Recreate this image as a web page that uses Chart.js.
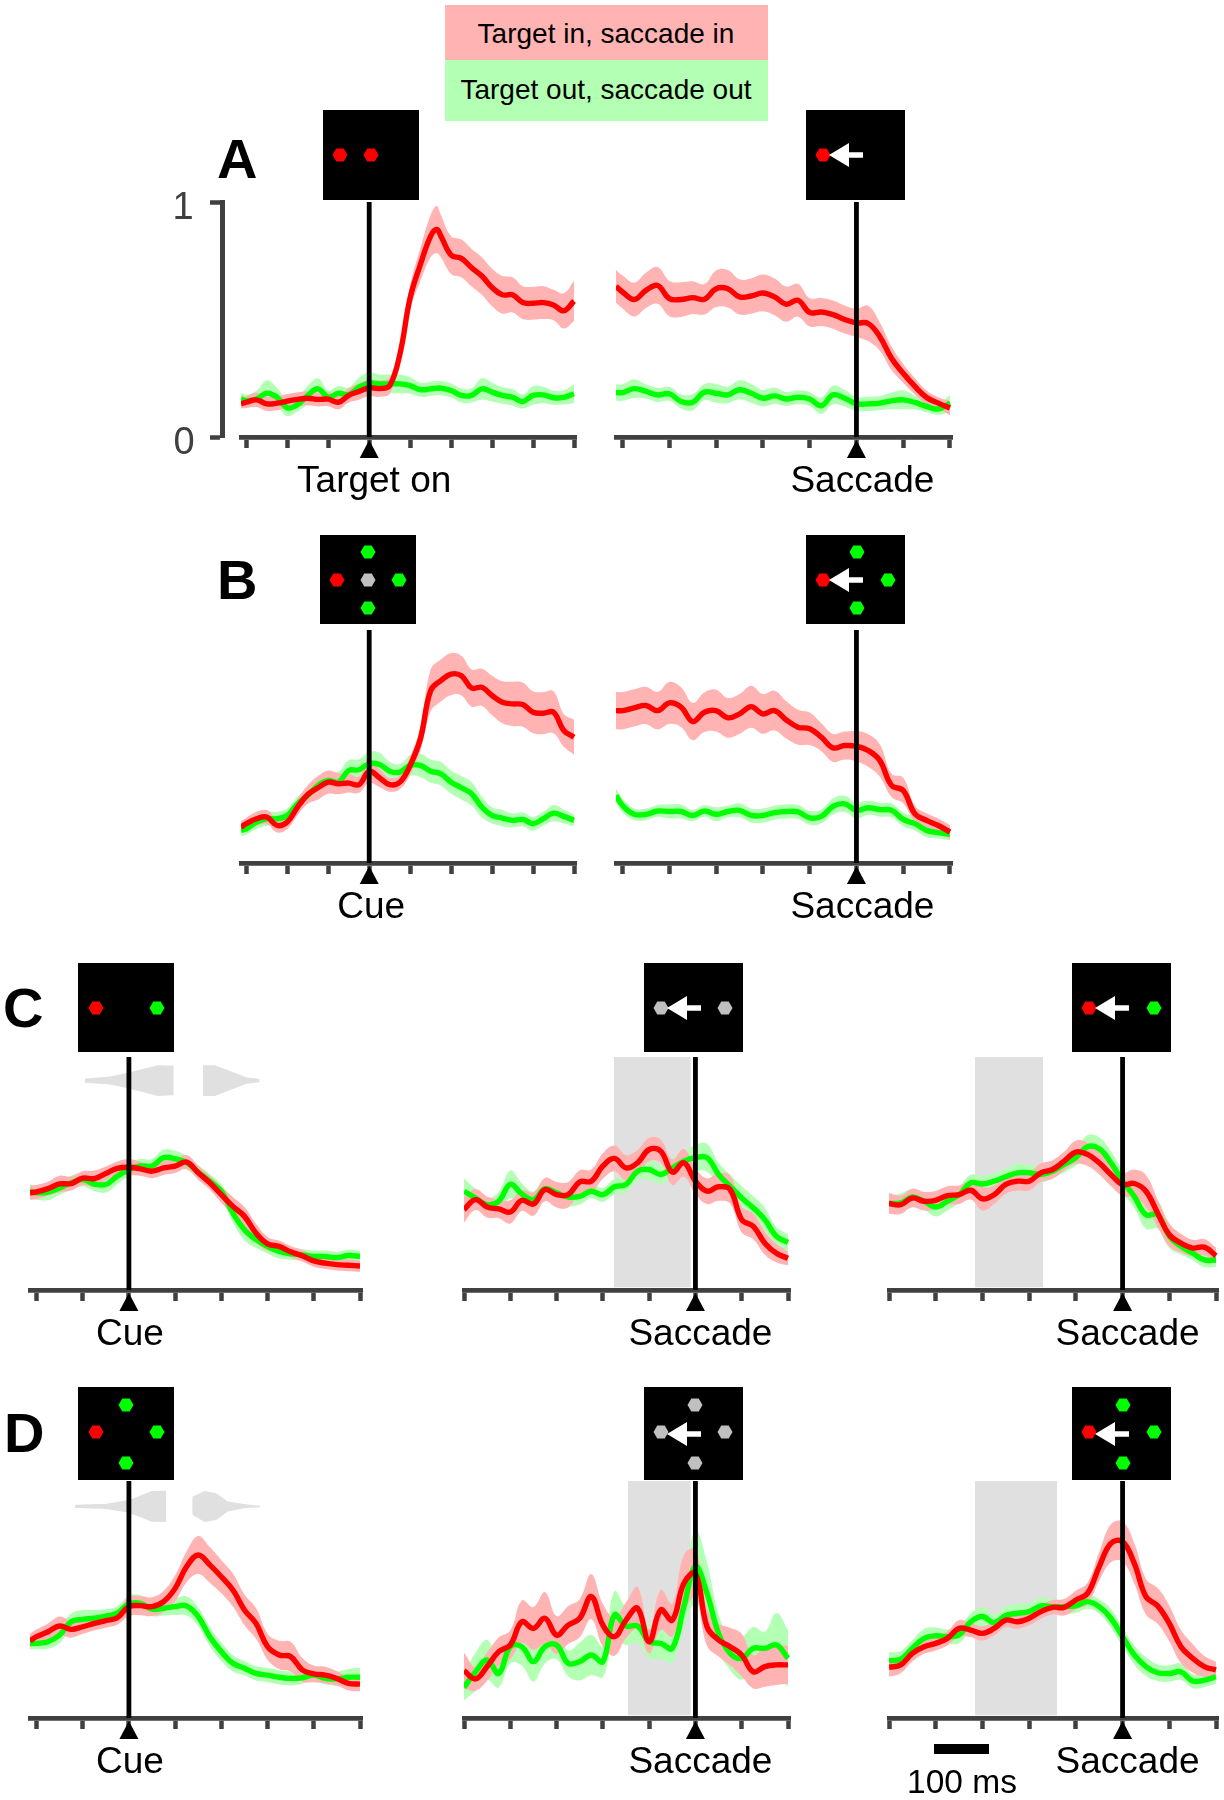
<!DOCTYPE html>
<html>
<head>
<meta charset="utf-8">
<style>
  body { margin: 0; background: #fff; }
  #fig { position: relative; width: 1224px; height: 1800px; overflow: hidden; font-family: "Liberation Sans", sans-serif; color: #000; }
  #fig canvas, #fig svg, #fig .txt, #fig .box { position: absolute; }
  #fig .txt { white-space: nowrap; }
</style>
<script src="https://cdn.jsdelivr.net/npm/chart.js@4"></script>
</head>
<body>
<div id="fig"></div>
<script>
// time samples, ms from the event
const aLeftTimes = [-313,-300,-275,-250,-225,-200,-175,-150,-125,-100,-75,-50,-25,0,25,50,75,100,125,150,165,175,200,225,250,275,300,325,350,375,400,425,450,475,500];
const bLeftTimes = [-313,-300,-275,-250,-225,-200,-175,-150,-125,-100,-75,-50,-25,0,25,50,75,100,125,150,175,200,225,250,275,300,325,350,375,400,425,450,475,500];
const topRightTimes = [-514,-500,-475,-450,-425,-400,-375,-350,-325,-300,-275,-250,-225,-200,-175,-150,-125,-100,-75,-50,-25,0,25,50,75,100,125,150,175,200];
const cueTimes = [-214,-200,-175,-150,-125,-100,-75,-50,-25,0,25,50,75,100,125,150,175,200,225,250,275,300,325,350,375,400,425,450,475,500];
const saccTimes = [-500,-475,-450,-425,-400,-375,-350,-325,-300,-275,-250,-225,-200,-175,-150,-125,-100,-75,-50,-25,0,25,50,75,100,125,150,175,200];

// tick positions
const wideTicks = [-300,-200,-100,0,100,200,300,400,500];
const cueTicks = [-200,-100,0,100,200,300,400,500];
const saccTicks = [-500,-400,-300,-200,-100,0,100,200];
const rateTicks = [0,1];
const rateLabels = ["0","1"];

// panel A
const aLeftRed = [.141,.148,.158,.141,.144,.153,.160,.165,.160,.161,.148,.177,.194,.209,.206,.219,.353,.593,.734,.855,.883,.855,.774,.760,.720,.685,.636,.605,.605,.572,.569,.572,.562,.537,.579];
const aLeftRedErr = [.02,.025,.03,.03,.03,.03,.03,.03,.03,.03,.03,.03,.035,.035,.035,.035,.04,.05,.07,.09,.10,.09,.08,.08,.08,.08,.08,.08,.075,.07,.07,.07,.065,.075,.085];
const aLeftGreen = [.162,.155,.162,.186,.169,.124,.138,.177,.205,.169,.186,.181,.212,.229,.226,.226,.226,.219,.201,.205,.208,.208,.198,.177,.177,.205,.191,.177,.169,.151,.177,.179,.167,.169,.184];
const aLeftGreenErr = [.025,.025,.035,.055,.04,.035,.03,.04,.045,.03,.03,.03,.04,.045,.04,.04,.04,.035,.03,.03,.03,.03,.03,.03,.03,.045,.04,.035,.035,.03,.04,.035,.03,.03,.04];
const aRightRed = [.641,.617,.585,.624,.645,.589,.585,.593,.586,.631,.631,.596,.600,.613,.596,.565,.582,.530,.532,.521,.500,.486,.483,.427,.335,.271,.215,.168,.144,.123];
const aRightRedErr = [.07,.07,.072,.075,.078,.075,.074,.07,.065,.078,.08,.075,.075,.078,.078,.075,.07,.06,.06,.06,.06,.06,.075,.06,.05,.04,.035,.03,.025,.03];
const aRightGreen = [.189,.189,.206,.194,.179,.184,.151,.148,.191,.186,.179,.201,.186,.165,.175,.162,.169,.162,.133,.179,.165,.141,.141,.144,.154,.158,.147,.130,.119,.144];
const aRightGreenErr = [.035,.035,.04,.03,.03,.03,.03,.035,.035,.04,.035,.04,.04,.035,.035,.03,.03,.03,.035,.04,.035,.03,.03,.03,.035,.04,.03,.025,.025,.035];

// panel B
const bLeftRed = [.154,.169,.190,.197,.161,.176,.240,.294,.323,.347,.340,.343,.336,.394,.366,.336,.347,.419,.533,.740,.783,.811,.804,.751,.754,.719,.690,.683,.680,.647,.643,.647,.569,.540];
const bLeftRedErr = [.025,.025,.03,.03,.03,.03,.035,.04,.05,.05,.045,.04,.035,.05,.04,.03,.03,.04,.05,.09,.09,.09,.085,.08,.08,.085,.09,.095,.095,.09,.09,.09,.07,.075];
const bLeftGreen = [.140,.147,.176,.190,.190,.204,.254,.290,.333,.354,.347,.397,.400,.426,.423,.394,.390,.419,.419,.394,.383,.347,.323,.297,.240,.204,.193,.183,.187,.169,.190,.214,.200,.183];
const bLeftGreenErr = [.025,.025,.03,.03,.03,.03,.03,.03,.03,.04,.045,.045,.045,.05,.05,.04,.035,.045,.05,.05,.05,.05,.05,.05,.045,.035,.035,.03,.03,.03,.03,.035,.03,.025];
const bRightRed = [.654,.654,.666,.676,.654,.687,.669,.607,.647,.654,.623,.640,.671,.640,.654,.614,.583,.576,.540,.494,.504,.501,.483,.440,.333,.311,.211,.183,.161,.133];
const bRightRedErr = [.08,.08,.08,.08,.08,.09,.085,.08,.085,.09,.085,.085,.09,.085,.085,.08,.075,.07,.06,.06,.06,.065,.07,.07,.05,.055,.035,.03,.03,.03];
const bRightGreen = [.290,.247,.209,.209,.223,.221,.221,.204,.223,.209,.221,.226,.204,.204,.216,.221,.219,.194,.200,.243,.254,.226,.237,.229,.226,.187,.169,.140,.130,.123];
const bRightGreenErr = [.03,.03,.025,.025,.025,.03,.03,.025,.025,.03,.025,.03,.03,.03,.03,.03,.03,.03,.03,.035,.035,.035,.03,.03,.03,.03,.03,.03,.025,.025];

// panel C
const cLeftRed = [.417,.421,.435,.455,.457,.480,.478,.500,.522,.527,.520,.510,.524,.532,.549,.503,.460,.409,.359,.316,.244,.198,.187,.164,.147,.125,.115,.109,.106,.103];
const cLeftRedErr = [.03,.03,.03,.035,.03,.03,.035,.03,.03,.035,.03,.03,.03,.03,.03,.03,.03,.035,.04,.04,.04,.03,.025,.025,.025,.025,.025,.025,.025,.025];
const cLeftGreen = [.424,.417,.420,.438,.460,.474,.455,.453,.489,.517,.532,.532,.568,.563,.546,.506,.467,.424,.330,.259,.216,.187,.165,.155,.151,.144,.144,.139,.148,.144];
const cLeftGreenErr = [.03,.03,.035,.03,.03,.03,.03,.035,.035,.03,.03,.03,.035,.035,.03,.03,.03,.03,.04,.045,.035,.03,.03,.025,.025,.025,.025,.025,.025,.025];
const cMidRed = [.345,.388,.356,.348,.335,.385,.369,.431,.409,.409,.464,.467,.532,.565,.524,.546,.603,.596,.506,.546,.467,.424,.443,.431,.302,.273,.201,.158,.136];
const cMidRedErr = [.055,.045,.045,.04,.05,.045,.05,.05,.055,.055,.05,.05,.055,.055,.055,.055,.05,.05,.055,.06,.055,.055,.06,.06,.055,.055,.05,.04,.03];
const cMidGreen = [.424,.395,.366,.381,.453,.412,.388,.435,.417,.399,.402,.424,.409,.443,.453,.510,.517,.496,.524,.553,.568,.568,.496,.445,.395,.352,.302,.230,.204];
const cMidGreenErr = [.055,.04,.03,.04,.06,.045,.035,.04,.04,.04,.035,.03,.03,.035,.035,.04,.045,.04,.04,.04,.055,.06,.05,.05,.05,.05,.05,.04,.035];
const cRightRed = [.371,.366,.395,.381,.385,.405,.409,.428,.391,.409,.453,.467,.467,.503,.517,.553,.592,.582,.546,.496,.453,.457,.424,.330,.237,.201,.180,.184,.147];
const cRightRedErr = [.045,.04,.04,.04,.04,.04,.04,.04,.05,.04,.04,.04,.04,.04,.04,.04,.05,.05,.05,.05,.05,.06,.07,.06,.05,.04,.035,.035,.035];
const cRightGreen = [.371,.374,.399,.381,.356,.381,.409,.460,.455,.467,.486,.503,.503,.496,.510,.539,.568,.615,.606,.546,.467,.402,.323,.323,.230,.187,.158,.129,.129];
const cRightGreenErr = [.035,.04,.035,.035,.04,.04,.035,.035,.035,.035,.035,.04,.035,.035,.03,.035,.035,.05,.05,.05,.05,.05,.06,.06,.05,.035,.03,.03,.03];

// panel D
const dLeftRed = [.326,.343,.364,.388,.374,.385,.399,.411,.423,.470,.474,.470,.491,.547,.639,.688,.646,.596,.540,.456,.399,.301,.266,.259,.203,.186,.181,.167,.146,.143];
const dLeftRedErr = [.03,.03,.035,.04,.035,.03,.03,.03,.03,.04,.04,.04,.045,.055,.065,.08,.075,.07,.07,.065,.065,.055,.06,.063,.05,.035,.035,.03,.03,.03];
const dLeftGreen = [.315,.315,.322,.350,.406,.416,.421,.430,.442,.481,.484,.459,.463,.470,.473,.428,.343,.280,.231,.210,.188,.181,.172,.167,.170,.181,.167,.165,.172,.172];
const dLeftGreenErr = [.025,.025,.03,.035,.035,.04,.035,.03,.03,.035,.035,.03,.03,.035,.04,.04,.04,.04,.035,.03,.03,.03,.03,.03,.025,.025,.025,.03,.035,.04];
const dMidRed = [.200,.165,.217,.280,.308,.406,.378,.421,.350,.392,.421,.512,.392,.343,.413,.463,.322,.456,.413,.568,.610,.385,.329,.301,.266,.195,.217,.224,.224];
const dMidRedErr = [.075,.05,.06,.06,.06,.09,.09,.11,.08,.08,.08,.095,.09,.08,.075,.09,.05,.085,.07,.12,.10,.08,.07,.08,.09,.07,.085,.085,.08];
const dMidGreen = [.129,.195,.245,.188,.301,.301,.238,.301,.308,.231,.238,.266,.238,.435,.388,.388,.322,.315,.294,.470,.639,.526,.357,.273,.252,.294,.294,.308,.252];
const dMidGreenErr = [.055,.08,.085,.06,.07,.08,.085,.07,.06,.055,.08,.085,.065,.10,.08,.07,.07,.065,.06,.09,.155,.13,.08,.07,.09,.09,.07,.135,.12];
const dRightRed = [.214,.224,.273,.301,.315,.336,.378,.371,.357,.378,.413,.406,.421,.449,.467,.467,.498,.526,.639,.737,.744,.653,.512,.473,.399,.301,.252,.217,.203];
const dRightRedErr = [.04,.035,.035,.03,.03,.03,.035,.03,.03,.03,.03,.03,.03,.03,.03,.035,.04,.045,.06,.08,.085,.085,.075,.075,.075,.07,.06,.045,.035];
const dRightGreen = [.242,.248,.294,.336,.347,.343,.350,.406,.428,.402,.432,.442,.449,.473,.470,.470,.473,.491,.470,.421,.343,.266,.217,.191,.188,.195,.156,.160,.174];
const dRightGreenErr = [.035,.035,.035,.04,.035,.03,.035,.035,.04,.035,.04,.04,.035,.035,.03,.03,.03,.03,.03,.04,.04,.04,.04,.035,.035,.035,.03,.03,.03];

// grey analysis windows, ms from saccade
const cMidWindow = [-176,-10];
const cRightWindow = [-316,-170];
const dMidWindow = [-146,-10];
const dRightWindow = [-316,-140];

// saccade time distributions on the cue panels
const cViolinLeftX = [-95,-41,-5,63,97];
const cViolinLeftTop = [.908,.916,.931,.965,.962];
const cViolinLeftBottom = [.890,.882,.867,.833,.836];
const cViolinRightX = [160,186,254,283];
const cViolinRightTop = [.965,.965,.913,.906];
const cViolinRightBottom = [.833,.833,.885,.892];
const dViolinLeftX = [-117,-48,2,49,81];
const dViolinLeftTop = [.900,.904,.921,.958,.959];
const dViolinLeftBottom = [.886,.882,.865,.828,.827];
const dViolinRightX = [137,164,189,214,253,284];
const dViolinRightTop = [.934,.958,.948,.913,.902,.896];
const dViolinRightBottom = [.857,.827,.835,.871,.886,.889];

const RED = "#ff0000", GREEN = "#00ff00", RED_BAND = "#ffb3b3", GREEN_BAND = "#b3ffb3";
const GREY_FILL = "#e0e0e0", AXIS = "#404040", GREY_DOT = "#c0c0c0";

const fig = document.getElementById("fig");

function addText(text, x, baseline, size, opts = {}) {
  const el = document.createElement("div");
  el.className = "txt";
  el.textContent = text;
  el.style.fontSize = size + "px";
  el.style.lineHeight = size + "px";
  el.style.fontWeight = opts.weight || "normal";
  el.style.color = opts.color || "#000";
  el.style.top = baseline - size * 0.846 + "px";
  el.style.left = x + "px";
  if (opts.center) el.style.transform = "translateX(-50%)";
  fig.appendChild(el);
}

function addBox(x0, y0, x1, y1, color) {
  const el = document.createElement("div");
  el.className = "box";
  el.style.cssText = `left:${x0}px;top:${y0}px;width:${x1 - x0}px;height:${y1 - y0}px;background:${color}`;
  fig.appendChild(el);
}

// small black task icon with hexagon targets and the saccade arrow
function addIcon(x0, y0, x1, y1, dots, arrow) {
  const ns = "http://www.w3.org/2000/svg";
  const svg = document.createElementNS(ns, "svg");
  svg.setAttribute("width", x1 - x0);
  svg.setAttribute("height", y1 - y0);
  svg.style.left = x0 + "px";
  svg.style.top = y0 + "px";
  svg.style.background = "#000";
  dots.forEach(([cx, cy, color]) => {
    const hex = document.createElementNS(ns, "polygon");
    const px = cx - x0, py = cy - y0;
    hex.setAttribute("points", [[-7.5,0],[-3.7,-6.4],[3.7,-6.4],[7.5,0],[3.7,6.4],[-3.7,6.4]].map((p) => `${px + p[0]},${py + p[1]}`).join(" "));
    hex.setAttribute("fill", color);
    svg.appendChild(hex);
  });
  if (arrow) {
    const [tip, base, end, y] = arrow;
    const a = document.createElementNS(ns, "polygon");
    const yy = y - y0;
    a.setAttribute("points", `${tip - x0},${yy} ${base - x0},${yy - 12} ${base - x0},${yy - 2.7} ${end - x0},${yy - 2.7} ${end - x0},${yy + 2.7} ${base - x0},${yy + 2.7} ${base - x0},${yy + 12}`);
    a.setAttribute("fill", "#fff");
    svg.appendChild(a);
  }
  fig.appendChild(svg);
}

// black triangle under the axis at the event
const eventMarker = {
  id: "eventMarker",
  afterDraw(chart) {
    const { ctx, chartArea } = chart;
    const x = chart.scales.x.getPixelForValue(0);
    const y = chartArea.bottom;
    ctx.save();
    ctx.fillStyle = "#000";
    ctx.beginPath();
    ctx.moveTo(x, y + 3);
    ctx.lineTo(x + 9.5, y + 21);
    ctx.lineTo(x - 9.5, y + 21);
    ctx.closePath();
    ctx.fill();
    ctx.restore();
  },
};

function toPoints(xs, ys) {
  return xs.map((x, i) => ({ x, y: ys[i] }));
}

function bandDatasets(xs, top, bottom, color, order, tension) {
  const common = { pointRadius: 0, borderWidth: 0, borderColor: color, order, tension, backgroundColor: color };
  return [
    { ...common, data: toPoints(xs, top), fill: "+1" },
    { ...common, data: toPoints(xs, bottom), fill: false },
  ];
}

function meanDatasets(xs, mean, err, color, bandColor, bandOrder, lineOrder) {
  const top = mean.map((v, i) => v + err[i]);
  const bottom = mean.map((v, i) => v - err[i]);
  return bandDatasets(xs, top, bottom, bandColor, bandOrder, 0.4).concat([{
    data: toPoints(xs, mean),
    borderColor: color,
    borderWidth: 5.4,
    pointRadius: 0,
    fill: false,
    tension: 0.4,
    borderJoinStyle: "round",
    order: lineOrder,
  }]);
}

function drawPanel(p) {
  const ppu = (p.lastPx - p.firstPx) / (p.ticks[p.ticks.length - 1] - p.ticks[0]);
  const areaLeft = p.firstPx + (p.times[0] - p.ticks[0]) * ppu;
  const areaRight = p.lastPx + 2;
  const padL = p.yAxis ? 100 : 30;
  const padR = 20, padT = 4, axisH = 72, padB = 4;

  const canvas = document.createElement("canvas");
  canvas.width = Math.round(areaRight - areaLeft + padL + padR);
  canvas.height = p.axisY - p.topY + padT + axisH + padB;
  canvas.style.left = areaLeft - padL + "px";
  canvas.style.top = p.topY - padT + "px";
  fig.appendChild(canvas);

  let datasets = [];
  if (p.window) {
    datasets = datasets.concat(bandDatasets(p.window, [1, 1], [0.012, 0.012], GREY_FILL, 100, 0));
  }
  (p.violins || []).forEach((v) => {
    datasets = datasets.concat(bandDatasets(v[0], v[1], v[2], GREY_FILL, 99, 0));
  });
  datasets = datasets.concat(meanDatasets(p.times, p.green, p.greenErr, GREEN, GREEN_BAND, 50, 30));
  datasets = datasets.concat(meanDatasets(p.times, p.red, p.redErr, RED, RED_BAND, 40, 20));
  datasets.push({
    data: [{ x: 0, y: 0 }, { x: 0, y: 1 }],
    borderColor: "#000",
    borderWidth: 4.8,
    pointRadius: 0,
    fill: false,
    order: 10,
  });

  new Chart(canvas, {
    type: "line",
    data: { datasets },
    plugins: [eventMarker],
    options: {
      responsive: false,
      animation: false,
      events: [],
      layout: {
        autoPadding: false,
        padding: { left: padL, right: padR, top: padT, bottom: padB },
      },
      plugins: { legend: { display: false }, tooltip: { enabled: false } },
      scales: {
        x: {
          type: "linear",
          min: p.times[0],
          max: p.ticks[p.ticks.length - 1] + 2 / ppu,
          afterBuildTicks: (s) => { s.ticks = p.ticks.map((value) => ({ value })); },
          afterFit: (s) => { s.height = axisH; },
          border: { color: AXIS, width: 4.8 },
          grid: { drawOnChartArea: false, drawTicks: true, tickLength: 11, tickWidth: 4.5, tickColor: AXIS },
          ticks: {
            autoSkip: false,
            maxRotation: 0,
            padding: 15,
            labelOffset: p.labelOffset,
            color: "#000",
            font: { family: "Liberation Sans", size: 37, lineHeight: 1 },
            callback: (v) => (v === 0 ? p.event : ""),
          },
        },
        y: p.yAxis
          ? {
              min: 0,
              max: 1,
              position: { x: p.yAxis },
              afterBuildTicks: (s) => { s.ticks = rateTicks.map((value) => ({ value })); },
              border: { color: AXIS, width: 5 },
              grid: { drawOnChartArea: false, drawTicks: true, tickLength: 10, tickWidth: 4.5, tickColor: AXIS },
              ticks: { display: false },
            }
          : { min: 0, max: 1, display: false },
      },
    },
  });
}

const panels = [
  { times: aLeftTimes, ticks: wideTicks, firstPx: 246, lastPx: 574, topY: 202, axisY: 437, event: "Target on", labelOffset: 5, yAxis: -357,
    red: aLeftRed, redErr: aLeftRedErr, green: aLeftGreen, greenErr: aLeftGreenErr },
  { times: topRightTimes, ticks: saccTicks, firstPx: 623, lastPx: 950, topY: 202, axisY: 437, event: "Saccade", labelOffset: 6,
    red: aRightRed, redErr: aRightRedErr, green: aRightGreen, greenErr: aRightGreenErr },
  { times: bLeftTimes, ticks: wideTicks, firstPx: 246, lastPx: 574, topY: 630, axisY: 863, event: "Cue", labelOffset: 2,
    red: bLeftRed, redErr: bLeftRedErr, green: bLeftGreen, greenErr: bLeftGreenErr },
  { times: topRightTimes, ticks: saccTicks, firstPx: 623, lastPx: 950, topY: 630, axisY: 863, event: "Saccade", labelOffset: 6,
    red: bRightRed, redErr: bRightRedErr, green: bRightGreen, greenErr: bRightGreenErr },
  { times: cueTimes, ticks: cueTicks, firstPx: 36, lastPx: 360, topY: 1057, axisY: 1290, event: "Cue", labelOffset: 1,
    violins: [[cViolinLeftX, cViolinLeftTop, cViolinLeftBottom], [cViolinRightX, cViolinRightTop, cViolinRightBottom]],
    red: cLeftRed, redErr: cLeftRedErr, green: cLeftGreen, greenErr: cLeftGreenErr },
  { times: saccTimes, ticks: saccTicks, firstPx: 464, lastPx: 788.3, topY: 1057, axisY: 1290, event: "Saccade", labelOffset: 5, window: cMidWindow,
    red: cMidRed, redErr: cMidRedErr, green: cMidGreen, greenErr: cMidGreenErr },
  { times: saccTimes, ticks: saccTicks, firstPx: 889, lastPx: 1216.3, topY: 1057, axisY: 1290, event: "Saccade", labelOffset: 5, window: cRightWindow,
    red: cRightRed, redErr: cRightRedErr, green: cRightGreen, greenErr: cRightGreenErr },
  { times: cueTimes, ticks: cueTicks, firstPx: 36, lastPx: 360, topY: 1481, axisY: 1718, event: "Cue", labelOffset: 1,
    violins: [[dViolinLeftX, dViolinLeftTop, dViolinLeftBottom], [dViolinRightX, dViolinRightTop, dViolinRightBottom]],
    red: dLeftRed, redErr: dLeftRedErr, green: dLeftGreen, greenErr: dLeftGreenErr },
  { times: saccTimes, ticks: saccTicks, firstPx: 464, lastPx: 788.3, topY: 1481, axisY: 1718, event: "Saccade", labelOffset: 5, window: dMidWindow,
    red: dMidRed, redErr: dMidRedErr, green: dMidGreen, greenErr: dMidGreenErr },
  { times: saccTimes, ticks: saccTicks, firstPx: 889, lastPx: 1216.3, topY: 1481, axisY: 1718, event: "Saccade", labelOffset: 5, window: dRightWindow,
    red: dRightRed, redErr: dRightRedErr, green: dRightGreen, greenErr: dRightGreenErr },
];

panels.forEach(drawPanel);

// rate axis labels for panel A
addText(rateLabels[1], 183, 219, 38, { center: true, color: AXIS });
addText(rateLabels[0], 184, 454.5, 38, { center: true, color: AXIS });

// legend
addBox(445, 5, 768, 60, "#ffb3b3");
addBox(445, 60, 768, 121, "#b3ffb3");
addText("Target in, saccade in", 606, 44, 28, { center: true });
addText("Target out, saccade out", 606, 100, 28, { center: true });

// panel letters
addText("A", 217, 178, 56, { weight: "bold" });
addText("B", 217, 599, 56, { weight: "bold" });
addText("C", 3, 1027, 56, { weight: "bold" });
addText("D", 4, 1452, 56, { weight: "bold" });

// task icons
const R = RED, G = GREEN, W = GREY_DOT;
addIcon(323, 110, 419, 200, [[340, 155, R], [371, 155, R]]);
addIcon(806, 110, 905, 200, [[823, 155, R]], [829, 849, 863, 155]);
addIcon(320, 535, 416, 624, [[337, 580, R], [399, 580, G], [368, 552, G], [368, 608, G], [368, 580, W]]);
addIcon(806, 535, 905, 624, [[823, 580, R], [888, 580, G], [857, 552, G], [857, 608, G]], [829, 849, 863, 580]);
addIcon(78, 963, 174, 1052, [[96, 1008, R], [157, 1008, G]]);
addIcon(644, 963, 743, 1052, [[661, 1008, W], [725, 1008, W]], [667, 687, 701, 1008]);
addIcon(1072, 963, 1171, 1052, [[1089, 1008, R], [1154, 1008, G]], [1095, 1115, 1129, 1008]);
addIcon(78, 1387, 174, 1480, [[96, 1432, R], [157, 1432, G], [126, 1405, G], [126, 1463, G]]);
addIcon(644, 1387, 743, 1480, [[661, 1432, W], [725, 1432, W], [695, 1405, W], [695, 1463, W]], [667, 687, 701, 1434]);
addIcon(1072, 1387, 1171, 1480, [[1089, 1432, R], [1154, 1432, G], [1123, 1405, G], [1123, 1463, G]], [1095, 1115, 1129, 1434]);

// 100 ms scale bar
addBox(934, 1744, 989, 1754, "#000");
addText("100 ms", 962, 1793, 33.5, { center: true });
</script>
</body>
</html>
